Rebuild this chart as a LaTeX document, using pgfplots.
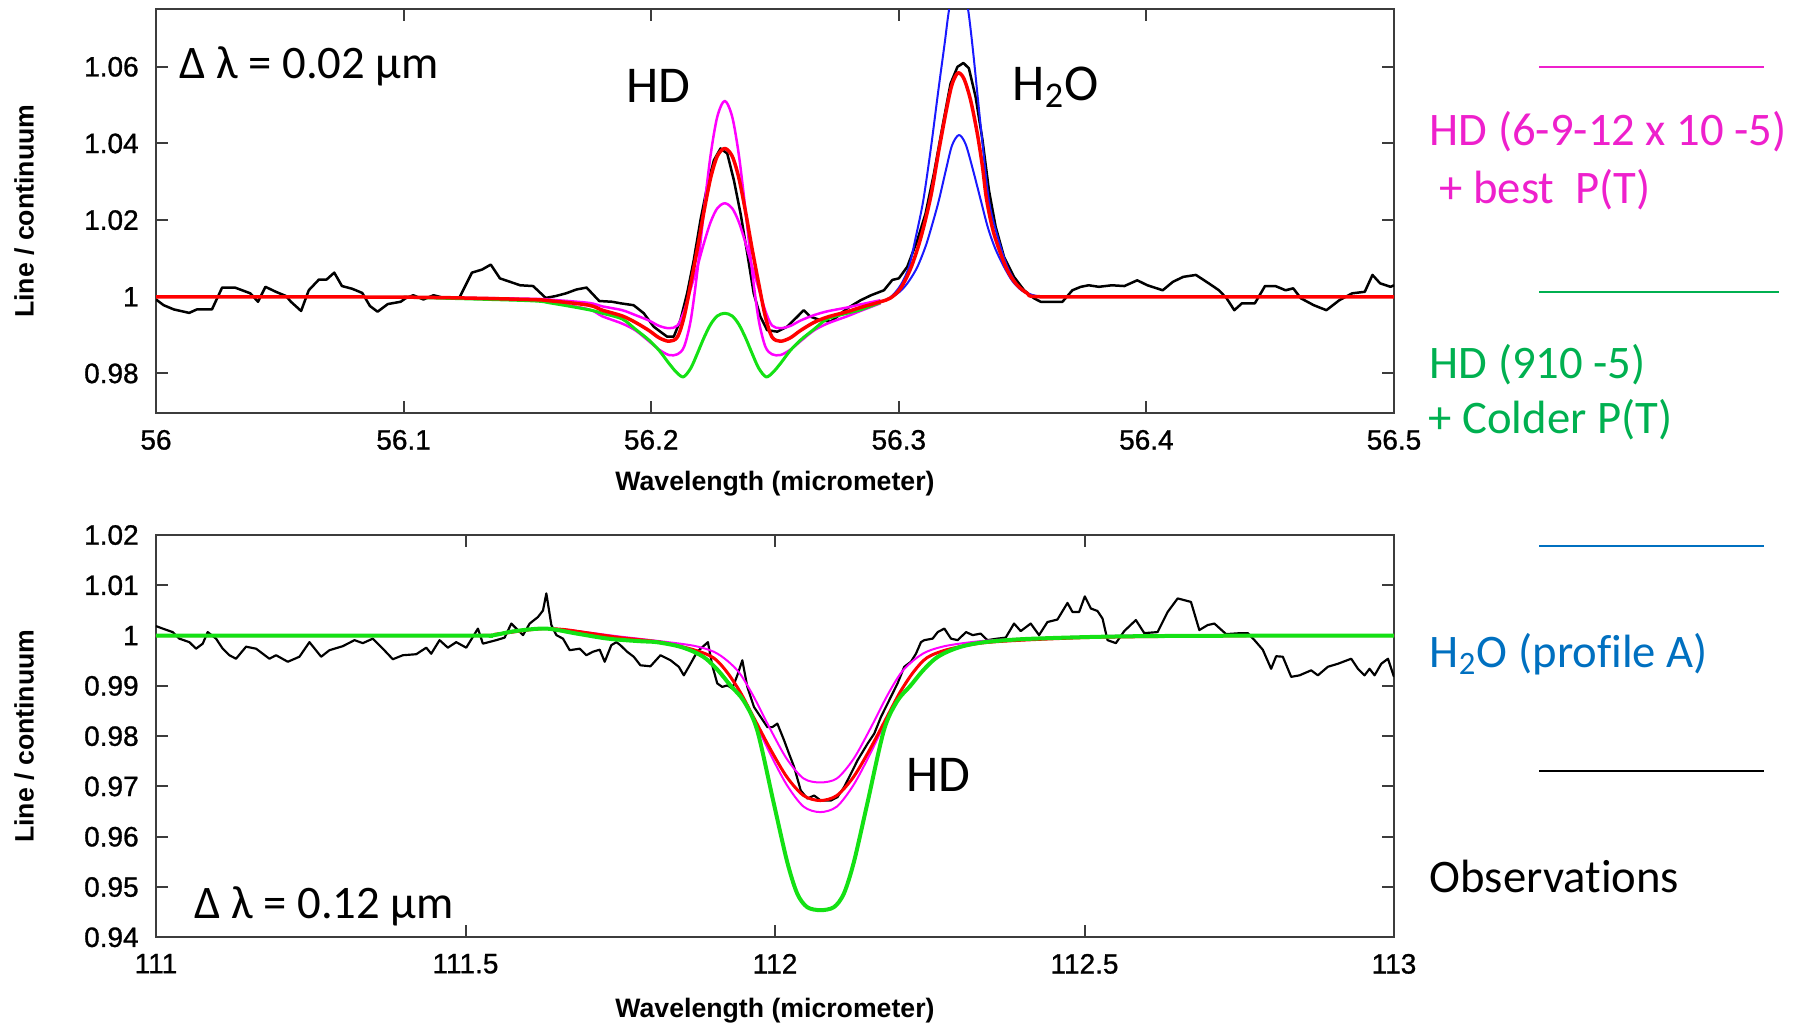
\documentclass[border=0pt]{standalone}
\usepackage{fontspec}
\usepackage{pgfplots}
\pgfplotsset{compat=1.18}
\newfontfamily\arialf{Liberation Sans}
\newfontfamily\arialt[FakeBold=1]{Liberation Sans}
\newfontfamily\calib[Ligatures=NoCommon]{Carlito}
\definecolor{pmag}{RGB}{255,0,255}
\definecolor{pgreen}{RGB}{20,225,20}
\definecolor{pred}{RGB}{255,0,0}
\definecolor{pblue}{RGB}{25,25,255}
\definecolor{lmag}{RGB}{238,32,204}
\definecolor{lgreen}{RGB}{0,176,80}
\definecolor{lblue}{RGB}{0,112,192}
\definecolor{frame}{RGB}{60,60,60}
\pgfplotsset{
  myaxis/.style={
    scale only axis,
    width=371.4pt,
    axis line style={frame, line width=0.6pt},
    every tick/.style={frame, line width=0.6pt},
    major tick length=3.6pt,
    tick align=inside,
    /pgf/number format/assume math mode=true,
    tick label style={font=\arialt\fontsize{8.4}{9}\selectfont},
    xticklabel style={anchor=north, inner sep=0pt, yshift=-4.8pt},
    yticklabel style={anchor=east, inner sep=0pt, xshift=-5pt},
    label style={font=\arialf\bfseries\fontsize{8}{9}\selectfont},
    ylabel style={at={(axis description cs:-0.1065,0.5)}, anchor=center},
    every axis plot/.append style={line join=round},
  }
}
\begin{document}
\begin{tikzpicture}
\path[use as bounding box] (0,0) rectangle (543.6pt,-308.1pt);

% ---------------- top panel ----------------
\begin{axis}[myaxis, at={(46.8pt,-123.99pt)}, anchor=south west, height=121.2pt,
  xmin=56, xmax=56.5, ymin=0.9696, ymax=1.0750,
  xtick={56,56.1,56.2,56.3,56.4,56.5}, ytick={0.98,1,1.02,1.04,1.06},
  xlabel={Wavelength (micrometer)}, ylabel={Line / continuum},
  xlabel style={at={(axis description cs:0.5,-0.175)}, anchor=center}]
% observations
\addplot[black, line width=0.75pt] coordinates {
(56.0000,0.9993)(56.0031,0.9978)(56.0072,0.9967)(56.0134,0.9958)(56.0165,0.9967)(56.0226,0.9967)
(56.0267,1.0024)(56.0319,1.0024)(56.0381,1.0009)(56.0412,0.9987)(56.0442,1.0026)(56.0484,1.0013)
(56.0525,1.0002)(56.0545,0.9987)(56.0586,0.9963)(56.0617,1.0017)(56.0658,1.0045)(56.0689,1.0045)
(56.0720,1.0063)(56.0751,1.0028)(56.0792,1.0021)(56.0833,1.0010)(56.0864,0.9976)(56.0895,0.9961)
(56.0936,0.9981)(56.0988,0.9987)(56.1008,0.9996)(56.1039,1.0004)(56.1080,0.9993)(56.1121,1.0004)
(56.1163,0.9997)(56.1224,0.9996)(56.1276,1.0063)(56.1317,1.0071)(56.1352,1.0084)(56.1389,1.0048)
(56.1430,1.0039)(56.1471,1.0030)(56.1523,1.0028)(56.1574,0.9997)(56.1615,1.0002)(56.1656,1.0009)
(56.1698,1.0019)(56.1739,1.0024)(56.1790,0.9989)(56.1842,0.9987)(56.1876,0.9983)(56.1929,0.9978)
(56.1970,0.9957)(56.2010,0.9922)(56.2064,0.9896)(56.2091,0.9896)(56.2118,0.9939)(56.2145,1.0009)
(56.2172,1.0096)(56.2199,1.0200)(56.2226,1.0287)(56.2253,1.0356)(56.2280,1.0387)(56.2307,1.0374)
(56.2334,1.0304)(56.2361,1.0217)(56.2388,1.0113)(56.2414,1.0009)(56.2441,0.9948)(56.2468,0.9913)
(56.2509,0.9909)(56.2549,0.9922)(56.2590,0.9948)(56.2616,0.9965)(56.2643,0.9948)(56.2684,0.9939)
(56.2724,0.9935)(56.2751,0.9948)(56.2792,0.9970)(56.2846,0.9991)(56.2888,1.0004)(56.2940,1.0017)
(56.2974,1.0044)(56.3000,1.0048)(56.3034,1.0078)(56.3075,1.0148)(56.3108,1.0217)(56.3142,1.0322)
(56.3176,1.0443)(56.3209,1.0556)(56.3237,1.0600)(56.3261,1.0610)(56.3283,1.0596)(56.3310,1.0522)
(56.3338,1.0409)(56.3364,1.0278)(56.3391,1.0183)(56.3425,1.0104)(56.3465,1.0052)(56.3506,1.0017)
(56.3546,0.9996)(56.3573,0.9987)(56.3614,0.9987)(56.3661,0.9987)(56.3701,1.0017)(56.3735,1.0026)
(56.3767,1.0030)(56.3808,1.0026)(56.3860,1.0030)(56.3911,1.0028)(56.3963,1.0043)(56.4004,1.0030)
(56.4066,1.0017)(56.4107,1.0039)(56.4149,1.0052)(56.4200,1.0057)(56.4252,1.0035)(56.4293,1.0017)
(56.4324,0.9996)(56.4355,0.9965)(56.4386,0.9983)(56.4438,0.9983)(56.4479,1.0028)(56.4521,1.0028)
(56.4562,1.0017)(56.4593,1.0022)(56.4624,0.9996)(56.4676,0.9978)(56.4727,0.9965)(56.4779,0.9991)
(56.4831,1.0009)(56.4882,1.0013)(56.4913,1.0057)(56.4944,1.0035)(56.4986,1.0026)(56.5000,1.0030)
};
% HD high (magenta)
\addplot[pmag, line width=0.75pt, smooth] coordinates {
(56.1000,0.9999)(56.1500,0.9991)(56.1600,0.9985)(56.1749,0.9967)(56.1803,0.9949)(56.1883,0.9930)
(56.1937,0.9912)(56.1991,0.9884)(56.2032,0.9862)(56.2072,0.9848)(56.2106,0.9850)(56.2133,0.9870)
(56.2160,0.9940)(56.2187,1.0070)(56.2213,1.0225)(56.2240,1.0370)(56.2267,1.0470)(56.2297,1.0511)
(56.2327,1.0470)(56.2354,1.0370)(56.2381,1.0225)(56.2407,1.0070)(56.2434,0.9940)(56.2461,0.9870)
(56.2488,0.9850)(56.2522,0.9848)(56.2562,0.9862)(56.2603,0.9884)(56.2657,0.9912)(56.2711,0.9930)
(56.2791,0.9949)(56.2845,0.9963)(56.2926,0.9983)
};
% HD low (magenta)
\addplot[pmag, line width=0.75pt, smooth] coordinates {
(56.1000,0.9999)(56.1500,0.9995)(56.1600,0.9992)(56.1749,0.9984)(56.1803,0.9975)(56.1883,0.9965)
(56.1937,0.9952)(56.1991,0.9938)(56.2032,0.9924)(56.2072,0.9918)(56.2106,0.9925)(56.2133,0.9963)
(56.2160,1.0022)(56.2187,1.0080)(56.2213,1.0140)(56.2240,1.0195)(56.2267,1.0231)(56.2297,1.0244)
(56.2327,1.0231)(56.2354,1.0195)(56.2381,1.0140)(56.2407,1.0080)(56.2434,1.0022)(56.2461,0.9963)
(56.2488,0.9925)(56.2522,0.9918)(56.2562,0.9924)(56.2603,0.9938)(56.2657,0.9952)(56.2711,0.9962)
(56.2791,0.9972)(56.2845,0.9980)(56.2926,0.9991)
};
% HD colder (green)
\addplot[pgreen, line width=0.9pt, smooth] coordinates {
(56.1000,0.9999)(56.1500,0.9990)(56.1600,0.9983)(56.1749,0.9966)(56.1803,0.9957)(56.1883,0.9942)
(56.1937,0.9915)(56.1991,0.9887)(56.2032,0.9860)(56.2072,0.9826)(56.2102,0.9803)(56.2130,0.9791)
(56.2160,0.9814)(56.2187,0.9853)(56.2213,0.9893)(56.2240,0.9928)(56.2267,0.9950)(56.2297,0.9957)
(56.2327,0.9950)(56.2354,0.9928)(56.2381,0.9893)(56.2407,0.9853)(56.2434,0.9814)(56.2464,0.9791)
(56.2492,0.9803)(56.2522,0.9826)(56.2562,0.9860)(56.2603,0.9887)(56.2657,0.9915)(56.2711,0.9942)
(56.2791,0.9957)(56.2845,0.9966)(56.2926,0.9985)
};
% H2O high (blue)
\addplot[pblue, line width=0.6pt, smooth] coordinates {
(56.2845,0.9972)(56.2926,0.9987)(56.2967,0.9999)(56.3007,1.0030)(56.3041,1.0078)(56.3070,1.0160)
(56.3099,1.0252)(56.3130,1.0390)(56.3160,1.0540)(56.3185,1.0660)(56.3203,1.0749)(56.3225,1.0810)
(56.3242,1.0825)(56.3260,1.0810)(56.3280,1.0749)(56.3300,1.0640)(56.3330,1.0450)(56.3364,1.0252)
(56.3400,1.0155)(56.3439,1.0078)(56.3480,1.0030)(56.3520,1.0008)(56.3573,1.0000)(56.3700,1.0000)
};
% H2O low (blue)
\addplot[pblue, line width=0.6pt, smooth] coordinates {
(56.2845,0.9972)(56.2926,0.9987)(56.2967,0.9997)(56.3007,1.0015)(56.3040,1.0040)(56.3075,1.0078)
(56.3110,1.0135)(56.3140,1.0200)(56.3162,1.0252)(56.3190,1.0330)(56.3215,1.0395)(56.3243,1.0422)
(56.3270,1.0398)(56.3300,1.0330)(56.3331,1.0252)(56.3360,1.0180)(56.3390,1.0125)(56.3425,1.0078)
(56.3460,1.0040)(56.3500,1.0015)(56.3550,1.0003)(56.3600,1.0000)(56.3700,1.0000)
};
% best model (red)
\addplot[pred, line width=1.05pt, smooth] coordinates {
(56.0000,1.0000)(56.1000,0.9999)(56.1500,0.9993)(56.1600,0.9989)(56.1749,0.9978)(56.1803,0.9965)
(56.1883,0.9950)(56.1937,0.9933)(56.1991,0.9912)(56.2032,0.9893)(56.2072,0.9884)(56.2106,0.9895)
(56.2133,0.9948)(56.2160,1.0035)(56.2187,1.0127)(56.2213,1.0222)(56.2240,1.0310)(56.2267,1.0367)
(56.2297,1.0387)(56.2327,1.0367)(56.2354,1.0310)(56.2381,1.0222)(56.2407,1.0127)(56.2434,1.0035)
(56.2461,0.9948)(56.2488,0.9895)(56.2522,0.9884)(56.2562,0.9893)(56.2603,0.9912)(56.2657,0.9933)
(56.2711,0.9947)(56.2791,0.9961)(56.2845,0.9972)(56.2926,0.9987)(56.2967,0.9997)(56.3007,1.0022)
(56.3048,1.0074)(56.3088,1.0152)(56.3129,1.0261)(56.3162,1.0383)(56.3196,1.0500)(56.3216,1.0556)
(56.3239,1.0584)(56.3263,1.0569)(56.3290,1.0513)(56.3317,1.0426)(56.3338,1.0339)(56.3355,1.0252)
(56.3384,1.0165)(56.3432,1.0078)(56.3472,1.0035)(56.3519,1.0009)(56.3573,1.0000)(56.4000,1.0000)
(56.5000,1.0000)
};
\end{axis}

% ---------------- bottom panel ----------------
\begin{axis}[myaxis, at={(46.8pt,-281.19pt)}, anchor=south west, height=120.69pt,
  xmin=111, xmax=113, ymin=0.94, ymax=1.02,
  xtick={111,111.5,112,112.5,113}, ytick={0.94,0.95,0.96,0.97,0.98,0.99,1,1.01,1.02},
  xlabel={Wavelength (micrometer)}, ylabel={Line / continuum},
  xlabel style={at={(axis description cs:0.5,-0.183)}, anchor=center}]
\addplot[black, line width=0.65pt] coordinates {
(111.0000,1.0019)(111.0108,1.0014)(111.0269,1.0007)(111.0377,0.9994)(111.0539,0.9987)(111.0647,0.9974)
(111.0755,0.9984)(111.0835,1.0007)(111.0970,0.9994)(111.1078,0.9974)(111.1186,0.9961)(111.1293,0.9954)
(111.1455,0.9978)(111.1617,0.9974)(111.1832,0.9954)(111.1940,0.9961)(111.2129,0.9948)(111.2317,0.9958)
(111.2479,0.9987)(111.2668,0.9958)(111.2802,0.9971)(111.3018,0.9979)(111.3207,0.9991)(111.3341,0.9985)
(111.3503,0.9994)(111.3665,0.9974)(111.3826,0.9953)(111.3988,0.9961)(111.4204,0.9963)(111.4366,0.9976)
(111.4446,0.9964)(111.4581,0.9991)(111.4715,0.9976)(111.4850,0.9987)(111.5012,0.9976)(111.5201,1.0014)
(111.5281,0.9984)(111.5497,0.9991)(111.5632,0.9996)(111.5740,1.0024)(111.5821,1.0014)(111.5929,1.0001)
(111.6037,1.0024)(111.6171,1.0037)(111.6252,1.0050)(111.6306,1.0084)(111.6387,1.0021)(111.6468,1.0001)
(111.6575,0.9994)(111.6683,0.9971)(111.6845,0.9974)(111.6952,0.9961)(111.7060,0.9968)(111.7168,0.9972)
(111.7249,0.9948)(111.7356,0.9981)(111.7437,0.9987)(111.7502,0.9981)(111.7610,0.9968)(111.7718,0.9958)
(111.7826,0.9941)(111.7988,0.9939)(111.8150,0.9961)(111.8312,0.9951)(111.8446,0.9938)(111.8527,0.9921)
(111.8635,0.9944)(111.8743,0.9968)(111.8916,0.9987)(111.8986,0.9941)(111.9067,0.9905)(111.9148,0.9898)
(111.9229,0.9901)(111.9310,0.9895)(111.9391,0.9921)(111.9472,0.9951)(111.9553,0.9898)(111.9661,0.9858)
(111.9769,0.9838)(111.9877,0.9818)(111.9957,0.9818)(112.0038,0.9825)(112.0146,0.9792)(112.0227,0.9765)
(112.0308,0.9739)(112.0416,0.9692)(112.0524,0.9676)(112.0632,0.9682)(112.0740,0.9672)(112.0902,0.9672)
(112.1010,0.9679)(112.1117,0.9699)(112.1225,0.9725)(112.1333,0.9752)(112.1495,0.9785)(112.1603,0.9805)
(112.1711,0.9838)(112.1819,0.9865)(112.1980,0.9905)(112.2088,0.9938)(112.2196,0.9948)(112.2277,0.9964)
(112.2358,0.9987)(112.2412,0.9991)(112.2547,0.9994)(112.2628,1.0007)(112.2736,1.0014)(112.2843,0.9994)
(112.2951,0.9991)(112.3086,1.0007)(112.3194,1.0001)(112.3323,1.0004)(112.3431,0.9991)(112.3592,0.9994)
(112.3727,0.9996)(112.3862,1.0024)(112.3970,1.0009)(112.4131,1.0024)(112.4266,1.0001)(112.4401,1.0027)
(112.4563,1.0032)(112.4725,1.0065)(112.4806,1.0047)(112.4914,1.0047)(112.5005,1.0078)(112.5102,1.0054)
(112.5210,1.0049)(112.5291,1.0034)(112.5372,0.9991)(112.5507,0.9985)(112.5642,1.0009)(112.5830,1.0031)
(112.5965,1.0005)(112.6181,1.0007)(112.6343,1.0047)(112.6505,1.0074)(112.6720,1.0067)(112.6855,1.0011)
(112.6990,1.0021)(112.7098,1.0024)(112.7287,1.0003)(112.7530,1.0005)(112.7638,1.0005)(112.7746,0.9991)
(112.7880,0.9972)(112.8015,0.9934)(112.8096,0.9959)(112.8204,0.9958)(112.8339,0.9918)(112.8474,0.9921)
(112.8662,0.9931)(112.8770,0.9921)(112.8931,0.9938)(112.9093,0.9944)(112.9309,0.9954)(112.9417,0.9934)
(112.9524,0.9921)(112.9605,0.9934)(112.9686,0.9921)(112.9794,0.9944)(112.9902,0.9954)(113.0000,0.9918)
};
% HD low (magenta, upper curve)
\addplot[pmag, line width=0.6pt, smooth] coordinates {
(111.0000,1.0000)(111.5000,1.0000)(111.5500,1.0003)(111.6000,1.0011)(111.6300,1.0014)(111.6600,1.0012)
(111.7000,1.0006)(111.7500,0.9998)(111.8140,0.9989)(111.8680,0.9980)(111.9010,0.9968)(111.9230,0.9950)
(111.9430,0.9925)(111.9650,0.9880)(111.9920,0.9815)(112.0190,0.9755)(112.0460,0.9716)(112.0730,0.9708)
(112.1000,0.9716)(112.1270,0.9755)(112.1540,0.9815)(112.1810,0.9880)(112.2030,0.9925)(112.2230,0.9950)
(112.2450,0.9968)(112.2780,0.9980)(112.3320,0.9989)(112.4000,0.9994)(112.5000,0.9998)(112.6000,1.0000)
(113.0000,1.0000)
};
% HD high (magenta, lower curve)
\addplot[pmag, line width=0.6pt, smooth] coordinates {
(111.0000,1.0000)(111.5000,1.0000)(111.5500,1.0003)(111.6000,1.0011)(111.6300,1.0014)(111.6600,1.0012)
(111.7000,1.0005)(111.7500,0.9996)(111.8142,0.9987)(111.8682,0.9972)(111.9005,0.9956)(111.9221,0.9928)
(111.9437,0.9887)(111.9652,0.9835)(111.9922,0.9765)(112.0191,0.9703)(112.0461,0.9660)(112.0730,0.9649)
(112.0999,0.9660)(112.1269,0.9703)(112.1538,0.9765)(112.1808,0.9835)(112.2023,0.9887)(112.2239,0.9928)
(112.2455,0.9956)(112.2778,0.9972)(112.3318,0.9985)(112.4000,0.9991)(112.5000,0.9996)(112.6000,0.9998)
(112.8000,1.0000)(113.0000,1.0000)
};
% best model (red)
\addplot[pred, line width=0.9pt, smooth] coordinates {
(111.0000,1.0000)(111.5000,1.0000)(111.5500,1.0003)(111.6000,1.0011)(111.6300,1.0014)(111.6600,1.0012)
(111.7000,1.0005)(111.7500,0.9996)(111.8142,0.9987)(111.8682,0.9972)(111.9005,0.9956)(111.9221,0.9928)
(111.9437,0.9888)(111.9652,0.9838)(111.9922,0.9775)(112.0191,0.9719)(112.0461,0.9682)(112.0730,0.9672)
(112.0999,0.9682)(112.1269,0.9719)(112.1538,0.9775)(112.1808,0.9838)(112.2023,0.9888)(112.2239,0.9928)
(112.2455,0.9956)(112.2778,0.9972)(112.3318,0.9985)(112.4000,0.9991)(112.5000,0.9996)(112.6000,0.9998)
(112.8000,1.0000)(113.0000,1.0000)
};
% colder P(T) (green)
\addplot[pgreen, line width=1.2pt, smooth] coordinates {
(111.0000,1.0000)(111.5000,1.0000)(111.5400,1.0000)(111.5800,1.0009)(111.6300,1.0014)(111.6800,1.0004)
(111.7300,0.9994)(111.7800,0.9989)(111.8086,0.9987)(111.8436,0.9979)(111.8686,0.9968)(111.8886,0.9954)
(111.9086,0.9930)(111.9286,0.9900)(111.9496,0.9870)(111.9712,0.9812)(111.9981,0.9666)(112.0197,0.9550)
(112.0359,0.9487)(112.0520,0.9460)(112.0736,0.9454)(112.0952,0.9460)(112.1113,0.9487)(112.1275,0.9550)
(112.1491,0.9666)(112.1760,0.9812)(112.1976,0.9870)(112.2186,0.9900)(112.2386,0.9930)(112.2586,0.9954)
(112.2786,0.9968)(112.3036,0.9979)(112.3386,0.9987)(112.4000,0.9993)(112.5000,0.9997)(112.6000,0.9999)
(112.8000,1.0000)(113.0000,1.0000)
};
\end{axis}

% ---------------- annotations and legend ----------------
\begin{scope}[x=0.3pt, y=-0.3pt, every node/.style={inner sep=0pt, anchor=base west}]
\node[font=\calib\fontsize{14}{16}\selectfont] at (179,78) {Δ λ = 0.02 µm};
\node[font=\calib\fontsize{15.5}{18}\selectfont] at (626,102) {HD};
\node[font=\calib\fontsize{15.5}{18}\selectfont] at (1012,100) {H\textsubscript{2}O};
\node[font=\calib\fontsize{15.5}{18}\selectfont] at (906,791) {HD};
\node[font=\calib\fontsize{14}{16}\selectfont] at (194,918) {Δ λ = 0.12 µm};

\draw[lmag, line width=0.75pt] (1539,67) -- (1764,67);
\node[font=\calib\fontsize{14}{16}\selectfont, text=lmag] at (1429,145) {HD (6-9-12 x 10 -5)};
\node[font=\calib\fontsize{14}{16}\selectfont, text=lmag] at (1439,203) {+ best\ \ P(T)};
\draw[lgreen, line width=0.75pt] (1539,292) -- (1779,292);
\node[font=\calib\fontsize{14}{16}\selectfont, text=lgreen] at (1429,378) {HD (910 -5)};
\node[font=\calib\fontsize{14}{16}\selectfont, text=lgreen] at (1428,433) {+ Colder P(T)};
\draw[lblue, line width=0.75pt] (1539,546) -- (1764,546);
\node[font=\calib\fontsize{14}{16}\selectfont, text=lblue] at (1429,667) {H\textsubscript{2}O (profile A)};
\draw[black, line width=0.75pt] (1539,771) -- (1764,771);
\node[font=\calib\fontsize{14}{16}\selectfont, text=black] at (1429,892) {Observations};
\end{scope}
\end{tikzpicture}
\end{document}
